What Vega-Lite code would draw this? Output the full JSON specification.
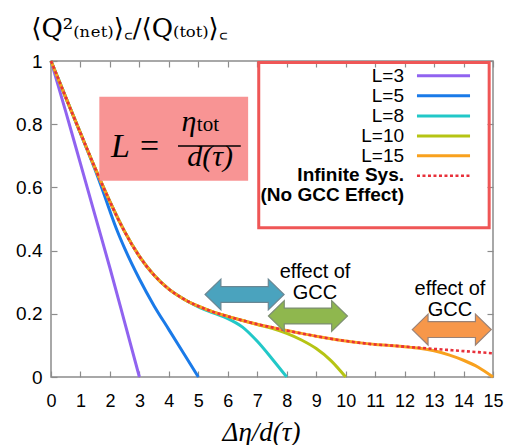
{
 "$schema": "https://vega.github.io/schema/vega-lite/v6.json",
 "width": 442, "height": 316,
 "autosize": {"type": "none"},
 "padding": {"left": 51, "top": 61, "right": 16, "bottom": 68},
 "background": "white",
 "config": {
  "font": "Liberation Sans",
  "view": {"stroke": "#8c8c8c", "strokeWidth": 1.5},
  "axis": {"domain": false, "grid": false, "tickColor": "#8c8c8c", "tickWidth": 1.2, "tickSize": -6, "labelOverlap": false, "labelFlush": false,
           "labelFont": "Liberation Sans", "labelFontSize": 19, "labelColor": "black"}
 },
 "datasets": {
  "finite": [
   {"series": "L=3", "x": 0, "y": 1}, {"series": "L=3", "x": 0.5, "y": 0.84}, {"series": "L=3", "x": 1, "y": 0.675}, {"series": "L=3", "x": 1.5, "y": 0.51}, {"series": "L=3", "x": 2, "y": 0.345}, {"series": "L=3", "x": 2.5, "y": 0.173}, {"series": "L=3", "x": 3, "y": 0},
   {"series": "L=5", "x": 0, "y": 1}, {"series": "L=5", "x": 0.25, "y": 0.943}, {"series": "L=5", "x": 0.5, "y": 0.885}, {"series": "L=5", "x": 0.75, "y": 0.828}, {"series": "L=5", "x": 1, "y": 0.771}, {"series": "L=5", "x": 1.25, "y": 0.714}, {"series": "L=5", "x": 1.5, "y": 0.655}, {"series": "L=5", "x": 1.75, "y": 0.592}, {"series": "L=5", "x": 2, "y": 0.525}, {"series": "L=5", "x": 2.25, "y": 0.462}, {"series": "L=5", "x": 2.5, "y": 0.407}, {"series": "L=5", "x": 3, "y": 0.31}, {"series": "L=5", "x": 3.5, "y": 0.225}, {"series": "L=5", "x": 4, "y": 0.15}, {"series": "L=5", "x": 4.5, "y": 0.075}, {"series": "L=5", "x": 5, "y": 0},
   {"series": "L=8", "x": 0, "y": 1}, {"series": "L=8", "x": 0.5, "y": 0.885}, {"series": "L=8", "x": 1, "y": 0.772}, {"series": "L=8", "x": 1.5, "y": 0.66}, {"series": "L=8", "x": 2, "y": 0.555}, {"series": "L=8", "x": 2.5, "y": 0.46}, {"series": "L=8", "x": 3, "y": 0.382}, {"series": "L=8", "x": 3.5, "y": 0.322}, {"series": "L=8", "x": 4, "y": 0.278}, {"series": "L=8", "x": 4.5, "y": 0.247}, {"series": "L=8", "x": 5, "y": 0.222}, {"series": "L=8", "x": 5.5, "y": 0.203}, {"series": "L=8", "x": 6, "y": 0.185}, {"series": "L=8", "x": 6.5, "y": 0.158}, {"series": "L=8", "x": 7, "y": 0.113}, {"series": "L=8", "x": 7.5, "y": 0.058}, {"series": "L=8", "x": 8, "y": 0},
   {"series": "L=10", "x": 0, "y": 1}, {"series": "L=10", "x": 0.5, "y": 0.885}, {"series": "L=10", "x": 1, "y": 0.772}, {"series": "L=10", "x": 1.5, "y": 0.66}, {"series": "L=10", "x": 2, "y": 0.555}, {"series": "L=10", "x": 2.5, "y": 0.46}, {"series": "L=10", "x": 3, "y": 0.382}, {"series": "L=10", "x": 3.5, "y": 0.322}, {"series": "L=10", "x": 4, "y": 0.278}, {"series": "L=10", "x": 4.5, "y": 0.247}, {"series": "L=10", "x": 5, "y": 0.224}, {"series": "L=10", "x": 5.5, "y": 0.206}, {"series": "L=10", "x": 6, "y": 0.192}, {"series": "L=10", "x": 6.5, "y": 0.179}, {"series": "L=10", "x": 7, "y": 0.166}, {"series": "L=10", "x": 7.5, "y": 0.154}, {"series": "L=10", "x": 8, "y": 0.138}, {"series": "L=10", "x": 8.5, "y": 0.117}, {"series": "L=10", "x": 9, "y": 0.09}, {"series": "L=10", "x": 9.5, "y": 0.052}, {"series": "L=10", "x": 10, "y": 0},
   {"series": "L=15", "x": 0, "y": 1}, {"series": "L=15", "x": 0.5, "y": 0.885}, {"series": "L=15", "x": 1, "y": 0.772}, {"series": "L=15", "x": 1.5, "y": 0.66}, {"series": "L=15", "x": 2, "y": 0.555}, {"series": "L=15", "x": 2.5, "y": 0.46}, {"series": "L=15", "x": 3, "y": 0.382}, {"series": "L=15", "x": 3.5, "y": 0.322}, {"series": "L=15", "x": 4, "y": 0.278}, {"series": "L=15", "x": 4.5, "y": 0.247}, {"series": "L=15", "x": 5, "y": 0.224}, {"series": "L=15", "x": 5.5, "y": 0.206}, {"series": "L=15", "x": 6, "y": 0.192}, {"series": "L=15", "x": 6.5, "y": 0.179}, {"series": "L=15", "x": 7, "y": 0.167}, {"series": "L=15", "x": 7.5, "y": 0.157}, {"series": "L=15", "x": 8, "y": 0.147}, {"series": "L=15", "x": 8.5, "y": 0.138}, {"series": "L=15", "x": 9, "y": 0.129}, {"series": "L=15", "x": 9.5, "y": 0.121}, {"series": "L=15", "x": 10, "y": 0.114}, {"series": "L=15", "x": 10.5, "y": 0.108}, {"series": "L=15", "x": 11, "y": 0.103}, {"series": "L=15", "x": 11.5, "y": 0.1}, {"series": "L=15", "x": 12, "y": 0.096}, {"series": "L=15", "x": 12.5, "y": 0.091}, {"series": "L=15", "x": 13, "y": 0.083}, {"series": "L=15", "x": 13.5, "y": 0.07}, {"series": "L=15", "x": 14, "y": 0.053}, {"series": "L=15", "x": 14.5, "y": 0.031}, {"series": "L=15", "x": 15, "y": 0}
  ],
  "infinite": [
   {"x": 0, "y": 1}, {"x": 0.25, "y": 0.943}, {"x": 0.5, "y": 0.885}, {"x": 0.75, "y": 0.828}, {"x": 1, "y": 0.772}, {"x": 1.25, "y": 0.716}, {"x": 1.5, "y": 0.66}, {"x": 1.75, "y": 0.606}, {"x": 2, "y": 0.555}, {"x": 2.25, "y": 0.505}, {"x": 2.5, "y": 0.46}, {"x": 2.75, "y": 0.418}, {"x": 3, "y": 0.382}, {"x": 3.5, "y": 0.322}, {"x": 4, "y": 0.278}, {"x": 4.5, "y": 0.247}, {"x": 5, "y": 0.224}, {"x": 5.5, "y": 0.206}, {"x": 6, "y": 0.192}, {"x": 6.5, "y": 0.179}, {"x": 7, "y": 0.167}, {"x": 7.5, "y": 0.157}, {"x": 8, "y": 0.147}, {"x": 8.5, "y": 0.138}, {"x": 9, "y": 0.129}, {"x": 9.5, "y": 0.121}, {"x": 10, "y": 0.114}, {"x": 10.5, "y": 0.108}, {"x": 11, "y": 0.103}, {"x": 11.5, "y": 0.1}, {"x": 12, "y": 0.096}, {"x": 13, "y": 0.089}, {"x": 14, "y": 0.082}, {"x": 15, "y": 0.075}
  ]
 },
 "layer": [
  {
   "data": {"name": "finite"},
   "mark": {"type": "line", "strokeWidth": 3, "interpolate": "monotone"},
   "encoding": {
    "x": {"field": "x", "type": "quantitative", "scale": {"domain": [0, 15], "nice": false, "zero": false},
          "axis": {"orient": "bottom", "values": [0,1,2,3,4,5,6,7,8,9,10,11,12,13,14,15], "labelPadding": 21, "labelFontSize": 18,
                   "title": "Δη/d(τ)", "titleFont": "Liberation Serif", "titleFontSize": 27, "titleFontWeight": "normal", "titleFontStyle": "italic",
                   "titleX": 210, "titleY": 55, "titleBaseline": "middle", "titleAlign": "center", "titleColor": "black"}},
    "y": {"field": "y", "type": "quantitative", "scale": {"domain": [0, 1], "nice": false},
          "axis": {"orient": "left", "values": [0, 0.2, 0.4, 0.6, 0.8, 1], "format": "~g", "labelPadding": 15,
                   "title": "⟨Q²₍ₙₑₜ₎⟩꜀/⟨Q₍ₜₒₜ₎⟩꜀", "titleAngle": 0, "titleX": 78, "titleY": -33, "titleAlign": "center", "titleBaseline": "middle",
                   "titleFont": "DejaVu Serif", "titleFontSize": 26, "titleFontWeight": "normal", "titleColor": "black"}},
    "color": {"field": "series", "type": "nominal", "legend": null,
              "scale": {"domain": ["L=3", "L=5", "L=8", "L=10", "L=15"], "range": ["#9063f0", "#1a7ae8", "#22c8c8", "#b6c414", "#f8a11e"]}}
   }
  },
  {
   "data": {"name": "infinite"},
   "mark": {"type": "line", "strokeWidth": 2.6, "color": "#e8303a", "strokeDash": [3, 2.5], "interpolate": "monotone"},
   "encoding": {
    "x": {"field": "x", "type": "quantitative", "axis": {"orient": "top", "labels": false, "title": null, "values": [0,1,2,3,4,5,6,7,8,9,10,11,12,13,14,15]}},
    "y": {"field": "y", "type": "quantitative", "axis": {"orient": "right", "labels": false, "title": null, "values": [0, 0.2, 0.4, 0.6, 0.8, 1]}}
   }
  },
  {
   "data": {"values": [{"box": "equation"}]},
   "mark": {"type": "rect", "color": "#f89494"},
   "encoding": {"x": {"datum": 1.64, "type": "quantitative", "axis": null}, "x2": {"datum": 6.69},
                "y": {"datum": 0.887, "type": "quantitative", "axis": null}, "y2": {"datum": 0.621}}
  },
  {
   "data": {"values": [{"t": "L ="}]},
   "mark": {"type": "text", "font": "Liberation Serif", "fontStyle": "italic", "fontSize": 34, "align": "center", "baseline": "middle", "color": "black"},
   "encoding": {"x": {"datum": 2.88, "type": "quantitative", "axis": null}, "y": {"datum": 0.728, "type": "quantitative", "axis": null}, "text": {"field": "t"}}
  },
  {
   "data": {"values": [{"t": "bar"}]},
   "mark": {"type": "rule", "color": "black", "strokeWidth": 1.5},
   "encoding": {"x": {"datum": 4.31, "type": "quantitative", "axis": null}, "x2": {"datum": 6.44}, "y": {"datum": 0.731, "type": "quantitative", "axis": null}}
  },
  {
   "data": {"values": [{"t": "η"}]},
   "mark": {"type": "text", "font": "Liberation Serif", "fontStyle": "italic", "fontSize": 30, "align": "center", "baseline": "alphabetic", "color": "black"},
   "encoding": {"x": {"datum": 4.68, "type": "quantitative", "axis": null}, "y": {"datum": 0.778, "type": "quantitative", "axis": null}, "text": {"field": "t"}}
  },
  {
   "data": {"values": [{"t": "tot"}]},
   "mark": {"type": "text", "font": "Liberation Serif", "fontSize": 21, "align": "left", "baseline": "alphabetic", "color": "black"},
   "encoding": {"x": {"datum": 4.95, "type": "quantitative", "axis": null}, "y": {"datum": 0.778, "type": "quantitative", "axis": null}, "text": {"field": "t"}}
  },
  {
   "data": {"values": [{"t": "d(τ)"}]},
   "mark": {"type": "text", "font": "Liberation Serif", "fontStyle": "italic", "fontSize": 30, "align": "center", "baseline": "alphabetic", "color": "black"},
   "encoding": {"x": {"datum": 5.4, "type": "quantitative", "axis": null}, "y": {"datum": 0.668, "type": "quantitative", "axis": null}, "text": {"field": "t"}}
  },
  {
   "data": {"values": [{"arrow": "teal"}]},
   "mark": {"type": "point", "filled": true, "opacity": 1, "size": 6241, "color": "#4aa3be", "stroke": "#6a8793", "strokeWidth": 1.2,
            "shape": "M-1,0L-0.6,-0.39L-0.6,-0.2L0.6,-0.2L0.6,-0.39L1,0L0.6,0.39L0.6,0.2L-0.6,0.2L-0.6,0.39Z"},
   "encoding": {"x": {"datum": 6.57, "type": "quantitative", "axis": null}, "y": {"datum": 0.261, "type": "quantitative", "axis": null}}
  },
  {
   "data": {"values": [{"arrow": "green"}]},
   "mark": {"type": "point", "filled": true, "opacity": 1, "size": 6241, "color": "#8fb74e", "stroke": "#7d8f72", "strokeWidth": 1.2,
            "shape": "M-1,0L-0.6,-0.39L-0.6,-0.2L0.6,-0.2L0.6,-0.39L1,0L0.6,0.39L0.6,0.2L-0.6,0.2L-0.6,0.39Z"},
   "encoding": {"x": {"datum": 8.72, "type": "quantitative", "axis": null}, "y": {"datum": 0.193, "type": "quantitative", "axis": null}}
  },
  {
   "data": {"values": [{"arrow": "orange"}]},
   "mark": {"type": "point", "filled": true, "opacity": 1, "size": 6241, "color": "#f7974a", "stroke": "#9a8276", "strokeWidth": 1.2,
            "shape": "M-1,0L-0.6,-0.39L-0.6,-0.2L0.6,-0.2L0.6,-0.39L1,0L0.6,0.39L0.6,0.2L-0.6,0.2L-0.6,0.39Z"},
   "encoding": {"x": {"datum": 13.6, "type": "quantitative", "axis": null}, "y": {"datum": 0.15, "type": "quantitative", "axis": null}}
  },
  {
   "data": {"values": [{"t": "effect of\nGCC"}]},
   "mark": {"type": "text", "fontSize": 20, "lineHeight": 21, "lineBreak": "\n", "align": "center", "baseline": "middle", "color": "black"},
   "encoding": {"x": {"datum": 8.96, "type": "quantitative", "axis": null}, "y": {"datum": 0.332, "type": "quantitative", "axis": null}, "text": {"field": "t"}}
  },
  {
   "data": {"values": [{"t": "effect of\nGCC"}]},
   "mark": {"type": "text", "fontSize": 20, "lineHeight": 21, "lineBreak": "\n", "align": "center", "baseline": "middle", "color": "black"},
   "encoding": {"x": {"datum": 13.54, "type": "quantitative", "axis": null}, "y": {"datum": 0.277, "type": "quantitative", "axis": null}, "text": {"field": "t"}}
  },
  {
   "data": {"values": [{"box": "legend"}]},
   "mark": {"type": "rect", "filled": false, "color": "#ef5656", "strokeWidth": 3},
   "encoding": {"x": {"datum": 7.05, "type": "quantitative", "axis": null}, "x2": {"datum": 14.87},
                "y": {"datum": 0.995, "type": "quantitative", "axis": null}, "y2": {"datum": 0.472}}
  },
  {
   "data": {"values": [{"t": "L=3"}]},
   "mark": {"type": "text", "fontSize": 19, "align": "right", "baseline": "middle", "color": "black"},
   "encoding": {"x": {"datum": 11.98, "type": "quantitative", "axis": null}, "y": {"datum": 0.953, "type": "quantitative", "axis": null}, "text": {"field": "t"}}
  },
  {
   "data": {"values": [{"t": "L=5"}]},
   "mark": {"type": "text", "fontSize": 19, "align": "right", "baseline": "middle", "color": "black"},
   "encoding": {"x": {"datum": 11.98, "type": "quantitative", "axis": null}, "y": {"datum": 0.89, "type": "quantitative", "axis": null}, "text": {"field": "t"}}
  },
  {
   "data": {"values": [{"t": "L=8"}]},
   "mark": {"type": "text", "fontSize": 19, "align": "right", "baseline": "middle", "color": "black"},
   "encoding": {"x": {"datum": 11.98, "type": "quantitative", "axis": null}, "y": {"datum": 0.826, "type": "quantitative", "axis": null}, "text": {"field": "t"}}
  },
  {
   "data": {"values": [{"t": "L=10"}]},
   "mark": {"type": "text", "fontSize": 19, "align": "right", "baseline": "middle", "color": "black"},
   "encoding": {"x": {"datum": 11.98, "type": "quantitative", "axis": null}, "y": {"datum": 0.763, "type": "quantitative", "axis": null}, "text": {"field": "t"}}
  },
  {
   "data": {"values": [{"t": "L=15"}]},
   "mark": {"type": "text", "fontSize": 19, "align": "right", "baseline": "middle", "color": "black"},
   "encoding": {"x": {"datum": 11.98, "type": "quantitative", "axis": null}, "y": {"datum": 0.7, "type": "quantitative", "axis": null}, "text": {"field": "t"}}
  },
  {
   "data": {"values": [{"t": "Infinite Sys.\n(No GCC Effect)"}]},
   "mark": {"type": "text", "fontSize": 19, "fontWeight": "bold", "lineHeight": 19.5, "lineBreak": "\n", "align": "right", "baseline": "top", "color": "black"},
   "encoding": {"x": {"datum": 11.98, "type": "quantitative", "axis": null}, "y": {"datum": 0.667, "type": "quantitative", "axis": null}, "text": {"field": "t"}}
  },
  {
   "data": {"values": [{"s": "L=3"}]},
   "mark": {"type": "rule", "color": "#9063f0", "strokeWidth": 3},
   "encoding": {"x": {"datum": 12.42, "type": "quantitative", "axis": null}, "x2": {"datum": 14.22}, "y": {"datum": 0.953, "type": "quantitative", "axis": null}}
  },
  {
   "data": {"values": [{"s": "L=5"}]},
   "mark": {"type": "rule", "color": "#1a7ae8", "strokeWidth": 3},
   "encoding": {"x": {"datum": 12.42, "type": "quantitative", "axis": null}, "x2": {"datum": 14.22}, "y": {"datum": 0.89, "type": "quantitative", "axis": null}}
  },
  {
   "data": {"values": [{"s": "L=8"}]},
   "mark": {"type": "rule", "color": "#22c8c8", "strokeWidth": 3},
   "encoding": {"x": {"datum": 12.42, "type": "quantitative", "axis": null}, "x2": {"datum": 14.22}, "y": {"datum": 0.826, "type": "quantitative", "axis": null}}
  },
  {
   "data": {"values": [{"s": "L=10"}]},
   "mark": {"type": "rule", "color": "#b6c414", "strokeWidth": 3},
   "encoding": {"x": {"datum": 12.42, "type": "quantitative", "axis": null}, "x2": {"datum": 14.22}, "y": {"datum": 0.763, "type": "quantitative", "axis": null}}
  },
  {
   "data": {"values": [{"s": "L=15"}]},
   "mark": {"type": "rule", "color": "#f8a11e", "strokeWidth": 3},
   "encoding": {"x": {"datum": 12.42, "type": "quantitative", "axis": null}, "x2": {"datum": 14.22}, "y": {"datum": 0.7, "type": "quantitative", "axis": null}}
  },
  {
   "data": {"values": [{"s": "inf"}]},
   "mark": {"type": "rule", "color": "#e8303a", "strokeWidth": 2.6, "strokeDash": [3, 2.5]},
   "encoding": {"x": {"datum": 12.42, "type": "quantitative", "axis": null}, "x2": {"datum": 14.22}, "y": {"datum": 0.637, "type": "quantitative", "axis": null}}
  }
 ],
 "resolve": {"axis": {"x": "independent", "y": "independent"}}
}
